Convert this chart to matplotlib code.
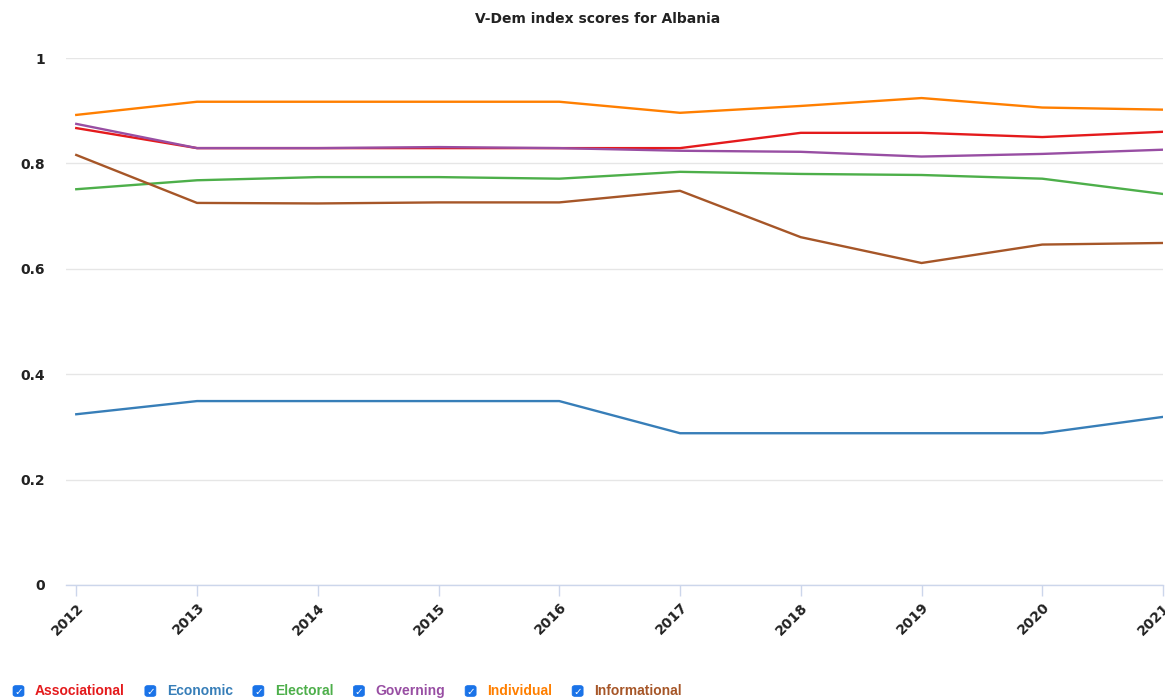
import matplotlib
matplotlib.use("Agg")
import matplotlib.pyplot as plt
from matplotlib.patches import FancyBboxPatch

years = [2012, 2013, 2014, 2015, 2016, 2017, 2018, 2019, 2020, 2021]
associational = [0.867, 0.829, 0.829, 0.829, 0.829, 0.829, 0.858, 0.858, 0.850, 0.860]
economic = [0.324, 0.349, 0.349, 0.349, 0.349, 0.288, 0.288, 0.288, 0.288, 0.319]
electoral = [0.751, 0.768, 0.774, 0.774, 0.771, 0.784, 0.780, 0.778, 0.771, 0.742]
governing = [0.875, 0.829, 0.829, 0.831, 0.829, 0.824, 0.822, 0.813, 0.818, 0.826]
individual = [0.892, 0.917, 0.917, 0.917, 0.917, 0.896, 0.909, 0.924, 0.906, 0.902]
informational = [0.816, 0.725, 0.724, 0.726, 0.726, 0.748, 0.660, 0.611, 0.646, 0.649]

names = ["Associational", "Economic", "Electoral", "Governing", "Individual", "Informational"]
series = [associational, economic, electoral, governing, individual, informational]
colors = ["#e41a1c", "#377eb8", "#4daf4a", "#984ea3", "#ff7f00", "#a65628"]

W, H = 1165, 700
fig = plt.figure(figsize=(W / 100, H / 100), dpi=100)
ax = fig.add_axes([66 / W, 1 - 585 / H, 1 - 66 / W - 2 / W, (585 - 58) / H])

for vals, c, n in zip(series, colors, names):
    ax.plot(years, vals, color=c, lw=1.7, label=n, solid_joinstyle="round")

ax.set_ylim(0, 1)
ax.set_xlim(2012 - 0.085, 2021)
ax.set_yticks([0, 0.2, 0.4, 0.6, 0.8, 1])
ax.set_yticklabels(["0", "0.2", "0.4", "0.6", "0.8", "1"])
ax.set_xticks(years)
ax.set_xticklabels([str(y) for y in years], rotation=45, ha="right", va="top",
                   rotation_mode="anchor")
for lab in ax.get_xticklabels() + ax.get_yticklabels():
    lab.set_fontweight("bold")
    lab.set_fontsize(10)
    lab.set_color("#222222")

ax.grid(axis="y", color="#e6e6e6", lw=1)
ax.set_axisbelow(True)
for s in ["top", "right", "left"]:
    ax.spines[s].set_visible(False)
ax.spines["bottom"].set_color("#ccd6eb")
ax.spines["bottom"].set_linewidth(1)
ax.tick_params(axis="x", colors="#ccd6eb", length=8, width=1, pad=3, labelcolor="#222222")
ax.tick_params(axis="y", length=0, pad=15)

fig.text(598 / W, 1 - 19 / H, "V-Dem index scores for Albania", ha="center", va="center",
         fontsize=10, fontweight="bold", color="#222222")

# Legend with checkboxes
fig.canvas.draw()
renderer = fig.canvas.get_renderer()
x = 13.0
ly = 691.0
for n, c in zip(names, colors):
    box = FancyBboxPatch(((x) / W, 1 - (ly + 5.5) / H), 11 / W, 11 / H,
                         boxstyle="round,pad=0,rounding_size=0.003",
                         transform=fig.transFigure, facecolor="#1a73e8",
                         edgecolor="#1a73e8", lw=0.5)
    fig.patches.append(box)
    fig.text((x + 5.5) / W, 1 - (ly + 0.5) / H, "\u2713", ha="center", va="center",
             fontsize=7.5, color="white", fontweight="bold", family="DejaVu Sans")
    t = fig.text((x + 22) / W, 1 - ly / H, n, ha="left", va="center", fontsize=10,
                 fontweight="bold", color=c, family="Liberation Sans")
    bb = t.get_window_extent(renderer)
    x = x + 22 + bb.width + 20

fig.savefig("out.png", dpi=100)
